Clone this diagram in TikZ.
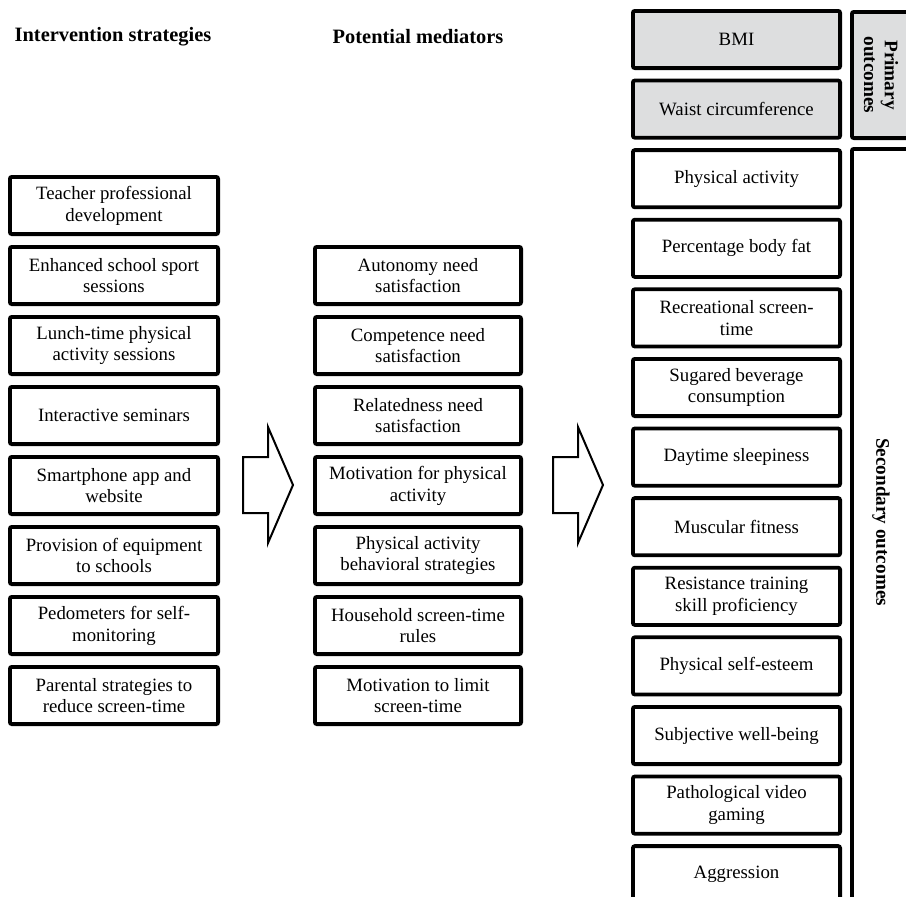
\documentclass[tikz,border=0pt]{standalone}
\usepackage{fontspec}
\setmainfont{Liberation Serif}
\usetikzlibrary{positioning}
\definecolor{boxgray}{RGB}{221,222,223}
\tikzstyle{n}=[draw, line width=1.9pt, rounded corners=1pt, fill=white, minimum width=104.1pt, minimum height=28.6pt, align=center, inner sep=1pt, font=\fontsize{9.4}{10.9}\selectfont]
\tikzstyle{m}=[n, minimum width=103.1pt]
\tikzstyle{o}=[n, minimum width=103.6pt]
\tikzstyle{p}=[o, fill=boxgray]
\tikzstyle{head}=[font=\fontsize{10.2}{12}\selectfont\bfseries]
\tikzstyle{lab}=[font=\fontsize{9.6}{10.4}\selectfont\bfseries, align=center, rotate=-90]
\tikzstyle{bigarrow}=[draw, line width=1pt, line join=miter]

\begin{document}
\begin{tikzpicture}[x=0.5pt, y=-0.5pt, node distance=4.5pt]
\useasboundingbox (0,0) rectangle (906,896);
\clip (0,0) rectangle (906,896);

 \node[head] (h1) at (113,37) {Intervention strategies};
 \node[head] (h2) at (418,37) {Potential mediators};

 \node[n] (is1) at (114,205.5) {Teacher professional\\development};
 \node[n, below=of is1] (is2) {Enhanced school sport\\sessions};
 \node[n, below=of is2] (is3) {Lunch-time physical\\activity sessions};
 \node[n, below=of is3] (is4) {Interactive seminars};
 \node[n, below=of is4] (is5) {Smartphone app and\\website};
 \node[n, below=of is5] (is6) {Provision of equipment\\to schools};
 \node[n, below=of is6] (is7) {Pedometers for self-\\monitoring};
 \node[n, below=of is7] (is8) {Parental strategies to\\reduce screen-time};

 \node[m] (pm1) at (418,275.5) {Autonomy need\\satisfaction};
 \node[m, below=of pm1] (pm2) {Competence need\\satisfaction};
 \node[m, below=of pm2] (pm3) {Relatedness need\\satisfaction};
 \node[m, below=of pm3] (pm4) {Motivation for physical\\activity};
 \node[m, below=of pm4] (pm5) {Physical activity\\behavioral strategies};
 \node[m, below=of pm5] (pm6) {Household screen-time\\rules};
 \node[m, below=of pm6] (pm7) {Motivation to limit\\screen-time};

 \begin{scope}[node distance=4.3pt]
 \node[p] (po1) at (736.5,39.5) {BMI};
 \node[p, below=of po1] (po2) {Waist circumference};
 \node[o, below=of po2] (so1) {Physical activity};
 \node[o, below=of so1] (so2) {Percentage body fat};
 \node[o, below=of so2] (so3) {Recreational screen-\\time};
 \node[o, below=of so3] (so4) {Sugared beverage\\consumption};
 \node[o, below=of so4] (so5) {Daytime sleepiness};
 \node[o, below=of so5] (so6) {Muscular fitness};
 \node[o, below=of so6] (so7) {Resistance training\\skill proficiency};
 \node[o, below=of so7] (so8) {Physical self-esteem};
 \node[o, below=of so8] (so9) {Subjective well-being};
 \node[o, below=of so9] (so10) {Pathological video\\gaming};
 \node[o, below=of so10] (so11) {Aggression};
 \end{scope}

 \node[n, fill=boxgray, minimum width=29.1pt, minimum height=63.1pt, anchor=north west] (prim) at (850,10) {};
 \node[lab] (primtxt) at (prim.center) {Primary\\outcomes};
 \node[n, minimum width=29.1pt, minimum height=375.1pt, anchor=north west] (sec) at (850,147) {};
 \node[lab] (sectxt) at ([yshift=1pt]sec.center) {Secondary outcomes};

 \draw[bigarrow] (243,457) -- (268,457) -- (268,427) -- (293,485) -- (268,543) -- (268,513) -- (243,513) -- cycle;
 \draw[bigarrow] (553,457) -- (578,457) -- (578,427) -- (603,485) -- (578,543) -- (578,513) -- (553,513) -- cycle;

\end{tikzpicture}
\end{document}
